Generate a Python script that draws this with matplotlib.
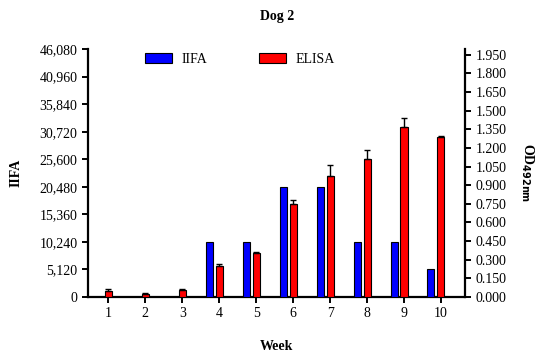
import matplotlib
matplotlib.use("Agg")
import matplotlib.pyplot as plt
import numpy as np

weeks = [1, 2, 3, 4, 5, 6, 7, 8, 9, 10]
iifa = [0, 0, 0, 10240, 10240, 20480, 20480, 10240, 10240, 5120]
elisa = [0.05, 0.027, 0.054, 0.25, 0.352, 0.747, 0.975, 1.112, 1.367, 1.287]
elisa_err = [0.013, 0.005, 0.013, 0.016, 0.008, 0.033, 0.089, 0.068, 0.073, 0.01]
left_ticks = [0, 5120, 10240, 15360, 20480, 25600, 30720, 35840, 40960, 46080]
right_ticks = [0.0, 0.15, 0.30, 0.45, 0.60, 0.75, 0.90, 1.05, 1.20, 1.35, 1.50, 1.65, 1.80, 1.95]

plt.rcParams['font.family'] = ['Liberation Serif', 'DejaVu Serif']

fig = plt.figure(figsize=(5.41, 3.53), dpi=100)
ax = fig.add_axes([0.1627, 0.1586, 0.8595 - 0.1627, 0.861 - 0.1586])
ax2 = ax.twinx()

x = np.array(weeks, dtype=float)
w = 0.19
ax.bar(x - 0.27, iifa, width=w, color='#0000ff', edgecolor='black', linewidth=0.8, label='IIFA', zorder=3)
ax2.bar(x, elisa, width=w, color='#ff0000', edgecolor='black', linewidth=0.8, label='ELISA', zorder=3)
ax2.errorbar(x, elisa, yerr=[np.zeros(len(elisa)), elisa_err], fmt='none', ecolor='black',
             elinewidth=1.0, capsize=2.5, capthick=1.0, zorder=4)

ax.set_xlim(0.45, 10.65)
ax.set_ylim(0, 46080)
ax2.set_ylim(0, 1.995)
ax.set_yticks(left_ticks)
ax.set_yticklabels([f"{v:,}" for v in left_ticks])
ax2.set_yticks(right_ticks)
ax2.set_yticklabels([f"{v:.3f}" for v in right_ticks])
ax.set_xticks(weeks)
ax.set_xticklabels([str(v) for v in weeks])

for a in (ax, ax2):
    a.spines['top'].set_visible(False)
    for s in ('left', 'right', 'bottom'):
        a.spines[s].set_linewidth(1.6)
    a.tick_params(axis='both', direction='out', width=1.4, length=4, labelsize=10)

ax2.spines['left'].set_visible(False)
ax.spines['right'].set_visible(False)
ax2.spines['bottom'].set_visible(False)

ax.set_ylabel('IIFA', fontsize=10, fontweight='bold', labelpad=12)
ax2.set_ylabel('OD$_{\\mathbf{492nm}}$', fontsize=10, fontweight='bold', rotation=270, labelpad=21)
ax.set_xlabel('Week', fontsize=10, fontweight='bold', labelpad=14)
fig.text(0.512, 0.952, 'Dog 2', ha='center', va='center', fontsize=10, fontweight='bold')

h1, l1 = ax.get_legend_handles_labels()
h2, l2 = ax2.get_legend_handles_labels()
leg = ax2.legend(h1 + h2, l1 + l2, loc='upper left', bbox_to_anchor=(0.151, 0.984), ncol=2,
                 frameon=False, fontsize=10, handlelength=1.95, handleheight=0.75,
                 columnspacing=3.7, handletextpad=0.7, borderpad=0, borderaxespad=0)

fig.savefig('out.png', dpi=100)
